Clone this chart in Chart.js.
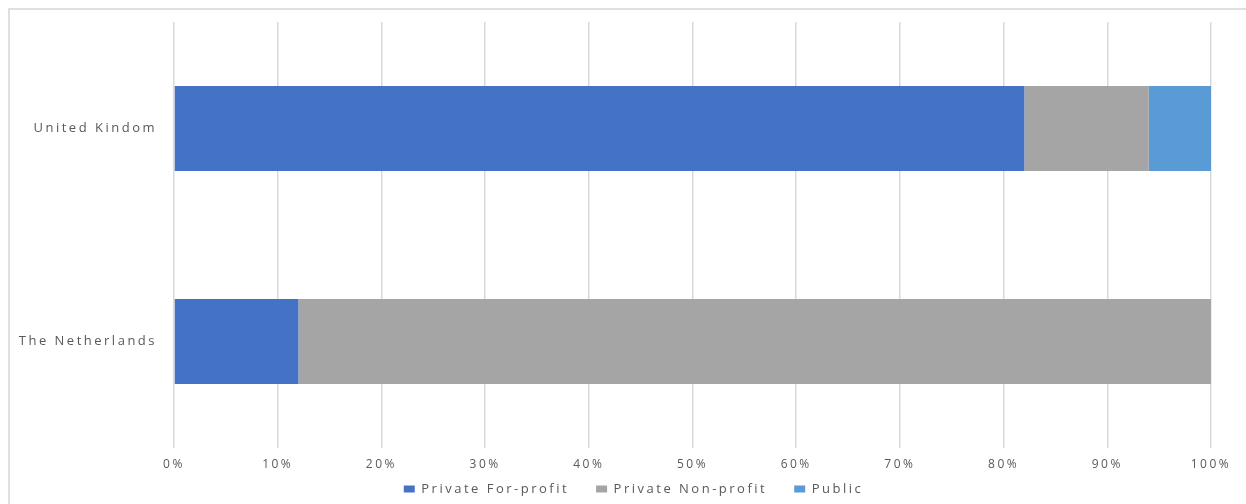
<!DOCTYPE html>
<html>
<head>
<meta charset="utf-8">
<title>Ownership of providers</title>
<script src="https://cdn.jsdelivr.net/npm/chart.js@4.4.1/dist/chart.umd.min.js"></script>
<style>
  html, body { margin: 0; padding: 0; background: #ffffff; overflow: hidden; }
  canvas { display: block; }
</style>
</head>
<body>
<canvas id="chart" width="1246" height="504"></canvas>
<script>
// Countries shown as bars (top to bottom)
const categories = ['United Kindom', 'The Netherlands'];

// Share of providers by ownership type, in percent
const forProfit = [82, 12];
const nonProfit = [12, 88];
const publicShare = [6, 0];

// Axis tick values (percent)
const tickValues = [0, 10, 20, 30, 40, 50, 60, 70, 80, 90, 100];

const TEXT = '#595959';
const GRID = '#d9d9d9';
const SPACING = '2.5px';

// Wide tracking for all canvas text
const trackingPlugin = {
  id: 'tracking',
  beforeUpdate(chart) { chart.ctx.letterSpacing = SPACING; },
  beforeDraw(chart) { chart.ctx.letterSpacing = SPACING; }
};

// Light frame along the top and left edges of the chart panel
const framePlugin = {
  id: 'frame',
  beforeDraw(chart) {
    const ctx = chart.ctx;
    ctx.save();
    ctx.strokeStyle = '#e0e0e0';
    ctx.lineWidth = 2;
    ctx.beginPath();
    ctx.moveTo(chart.width, 9);
    ctx.lineTo(9, 9);
    ctx.lineTo(9, chart.height);
    ctx.stroke();
    ctx.restore();
  }
};

// Place the legend row below the tick labels, centred a little right of the canvas middle
const legendPlacement = {
  id: 'legendPlacement',
  afterLayout(chart) {
    const lg = chart.legend;
    if (!lg) return;
    lg.top = 455.5;
    lg.bottom = 504;
    lg.height = lg.bottom - lg.top;
    lg.left = 56;
    lg.right = 1211;
    lg.width = lg.right - lg.left;
  }
};

new Chart(document.getElementById('chart'), {
  type: 'bar',
  data: {
    labels: categories,
    datasets: [
      { label: 'Private For-profit', data: forProfit, backgroundColor: '#4472C4' },
      { label: 'Private Non-profit', data: nonProfit, backgroundColor: '#A5A5A5' },
      { label: 'Public', data: publicShare, backgroundColor: '#5B9BD5' }
    ]
  },
  options: {
    indexAxis: 'y',
    responsive: false,
    animation: false,
    devicePixelRatio: 1,
    categoryPercentage: 0.8,
    barPercentage: 0.5,
    layout: { padding: { top: 22, left: 4, right: 35, bottom: 0 } },
    scales: {
      x: {
        stacked: true,
        min: 0,
        max: 100,
        afterBuildTicks(scale) { scale.ticks = tickValues.map(v => ({ value: v })); },
        afterFit(scale) { scale.height = 28; },
        border: { display: false },
        grid: { color: GRID, lineWidth: 1.5, drawTicks: false },
        ticks: {
          padding: 9,
          color: TEXT,
          font: { family: '"Open Sans", sans-serif', size: 12 },
          maxRotation: 0,
          callback: v => v + '%'
        }
      },
      y: {
        stacked: true,
        afterFit(scale) {
          scale.width = 170;
          scale.paddingTop = 0;
          scale.paddingBottom = 0;
        },
        border: { display: false },
        grid: { display: false, drawTicks: false },
        ticks: {
          padding: 17,
          color: TEXT,
          font: { family: '"Open Sans", sans-serif', size: 13 }
        }
      }
    },
    plugins: {
      legend: {
        position: 'bottom',
        maxHeight: 28,
        labels: {
          color: TEXT,
          boxWidth: 11,
          boxHeight: 7,
          padding: 27,
          font: { family: '"Open Sans", sans-serif', size: 13 }
        }
      },
      tooltip: { enabled: false }
    }
  },
  plugins: [trackingPlugin, framePlugin, legendPlacement]
});
</script>
</body>
</html>
